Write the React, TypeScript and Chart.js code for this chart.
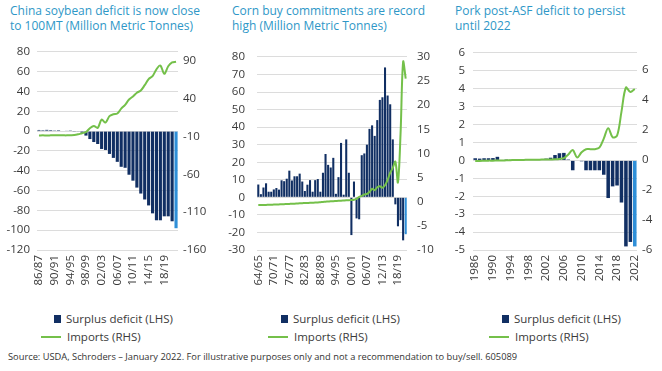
import React, { useEffect, useRef } from 'react';
import { Chart, registerables } from 'chart.js';
Chart.register(...registerables);

const FONT = "'Open Sans', sans-serif";
const NAVY = '#112f63';
const LIGHT = '#2f8fd8';
const GREEN = '#74c04a';
const TITLE_C = '#2e97c7';
const TEXT_C = '#3a3a3a';
const GRID_C = '#dcdcdc';

// ---------- Panel 1: China soybean ----------
const soyCats = ['86/87','87/88','88/89','89/90','90/91','91/92','92/93','93/94','94/95','95/96','96/97','97/98','98/99','99/00','00/01','01/02','02/03','03/04','04/05','05/06','06/07','07/08','08/09','09/10','10/11','11/12','12/13','13/14','14/15','15/16','16/17','17/18','18/19','19/20','20/21','21/22'];
const soyTicks = ['86/87','90/91','94/95','98/99','02/03','06/07','10/11','14/15','18/19'];
const soySurplus = [1.2,1.0,1.3,1.1,0.8,1.0,0.5,0.4,0.2,-0.3,-0.6,-1.5,-4.5,-8,-11,-13,-18,-19,-23,-27,-31,-36,-37,-44,-50,-57,-63,-69,-75,-83,-90,-90,-86,-86,-91,-98];
const soyImports = [-8.5,-8.4,-8.5,-8.4,-8.3,-8.4,-8.3,-8.4,-8.2,-8,-7,-5.5,-4,1,4,1.5,12.5,8.5,17,19.5,20.5,27,32,39,43,48,51,58,66,70,79,84,73,83,88,89];
const soyRightTicks = [-160,-110,-60,-10,40,90];

// ---------- Panel 2: Corn ----------
const cornCats = ['64/65','65/66','66/67','67/68','68/69','69/70','70/71','71/72','72/73','73/74','74/75','75/76','76/77','77/78','78/79','79/80','80/81','81/82','82/83','83/84','84/85','85/86','86/87','87/88','88/89','89/90','90/91','91/92','92/93','93/94','94/95','95/96','96/97','97/98','98/99','99/00','00/01','01/02','02/03','03/04','04/05','05/06','06/07','07/08','08/09','09/10','10/11','11/12','12/13','13/14','14/15','15/16','16/17','17/18','18/19','19/20','20/21','21/22'];
const cornTicks = ['64/65','70/71','76/77','82/83','88/89','94/95','00/01','06/07','12/13','18/19'];
const cornSurplus = [7.3,1.8,5.6,8,3.2,3.2,4.5,5.3,4.4,9.7,9.2,10.6,15.2,9.6,12,12,13.5,9,3.6,7.2,9.8,3.2,9.8,10.4,3.2,14,24.7,18.5,17,22.5,2,11.5,31,1.5,33,14,-21.5,9,-12,-12.5,24,25,30,39,41,35,44,55.5,57,74,58,53,33,-4,-16.5,-13,-24.5,-21];
const cornImports = [-0.7,-0.7,-0.68,-0.66,-0.64,-0.62,-0.6,-0.58,-0.55,-0.52,-0.5,-0.48,-0.45,-0.42,-0.4,-0.37,-0.34,-0.3,-0.28,-0.25,-0.22,-0.2,-0.18,-0.15,-0.1,-0.05,0,0.05,0.1,0.12,0.15,0.18,0.2,0.25,0.3,0.3,0.35,0.4,0.6,1.0,1.2,1.5,1.6,2.0,2.7,2.4,3.0,3.2,2.9,3.4,4.5,6.0,7.0,8.3,4.0,14,29,25.5];
const cornRightTicks = [-10,-5,0,5,10,15,20,25,30];

// ---------- Panel 3: Pork ----------
const porkCats = ['1986','1987','1988','1989','1990','1991','1992','1993','1994','1995','1996','1997','1998','1999','2000','2001','2002','2003','2004','2005','2006','2007','2008','2009','2010','2011','2012','2013','2014','2015','2016','2017','2018','2019','2020','2021','2022'];
const porkTicks = ['1986','1990','1994','1998','2002','2006','2010','2014','2018','2022'];
const porkSurplus = [0.12,0.1,0.12,0.12,0.13,0.2,0.03,0.05,0.04,0.03,0.02,0.05,0.04,0.05,0.06,0.08,0.1,0.15,0.3,0.4,0.42,0.05,-0.55,0,-0.05,-0.55,-0.55,-0.55,-0.55,-0.8,-2.1,-1.45,-1.4,-2.35,-4.8,-4.55,-4.8];
const porkImports = [-0.08,-0.08,-0.07,-0.06,-0.06,-0.05,-0.05,-0.04,-0.03,-0.02,-0.02,-0.01,0,0,0,0.01,0.01,0.02,0.03,0.05,0.1,0.35,0.65,0.15,0.5,0.7,0.7,0.7,0.8,1.4,2.1,1.5,1.6,3.2,4.8,4.5,4.7];
const porkRightTicks = [-6,-4,-2,0,2,4,6];

const tickFont = { family: FONT, size: 11.5 };

type PanelProps = {
  left: number; width: number;
  cats: string[]; ticks: string[]; bars: number[]; line: number[];
  yMin: number; yMax: number; yStep: number;
  y1Min: number; y1Max: number; y1Ticks: number[];
  leftW: number; leftPad: number; rightW: number; rightPad: number;
};

function Panel(p: PanelProps) {
  const ref = useRef<HTMLCanvasElement>(null);
  useEffect(() => {
    const chart = new Chart(ref.current as HTMLCanvasElement, {
      data: {
        labels: p.cats,
        datasets: [
          {
            type: 'line', data: p.line, yAxisID: 'y1', borderColor: GREEN, borderWidth: 2,
            pointRadius: 0, tension: 0.35, order: 0,
          } as any,
          {
            type: 'bar', data: p.bars, yAxisID: 'y',
            backgroundColor: p.bars.map((_, i) => (i === p.bars.length - 1 ? LIGHT : NAVY)),
            barPercentage: 0.8, categoryPercentage: 1, order: 1,
          } as any,
        ],
      },
      options: {
        animation: false, responsive: false, events: [],
        layout: { padding: { top: 10, left: 0, right: 0, bottom: 0 } },
        plugins: { legend: { display: false }, tooltip: { enabled: false } },
        scales: {
          x: {
            grid: { display: false, drawTicks: false }, border: { display: false },
            ticks: {
              autoSkip: false, minRotation: 90, maxRotation: 90, padding: 5,
              font: tickFont, color: TEXT_C,
              callback: (_v: any, i: number) => (p.ticks.includes(p.cats[i]) ? p.cats[i] : ''),
            },
            afterFit: (s: any) => { s.height = 50; },
          },
          y: {
            position: 'left', min: p.yMin, max: p.yMax,
            ticks: { stepSize: p.yStep, padding: p.leftPad, font: tickFont, color: TEXT_C },
            grid: { color: GRID_C, drawTicks: false, lineWidth: 1 }, border: { display: false },
            afterFit: (s: any) => { s.width = p.leftW; },
          },
          y1: {
            position: 'right', min: p.y1Min, max: p.y1Max,
            grid: { display: false, drawTicks: false }, border: { display: false },
            ticks: { padding: p.rightPad, font: tickFont, color: TEXT_C },
            afterBuildTicks: (s: any) => { s.ticks = p.y1Ticks.map((v) => ({ value: v })); },
            afterFit: (s: any) => { s.width = p.rightW; },
          },
        },
      } as any,
    });
    return () => chart.destroy();
  }, []);
  return (
    <canvas ref={ref} width={p.width} height={262}
      style={{ position: 'absolute', left: p.left, top: 38, width: p.width, height: 262 }} />
  );
}

function Title({ left, lines }: { left: number; lines: string[] }) {
  return (
    <div style={{ position: 'absolute', left, top: 3, font: `12px ${FONT}`, lineHeight: '15px', color: TITLE_C, whiteSpace: 'nowrap' }}>
      {lines.map((l, i) => <div key={i}>{l}</div>)}
    </div>
  );
}

function Legend({ sq }: { sq: number }) {
  const txt: React.CSSProperties = { position: 'absolute', font: `11.5px ${FONT}`, color: TEXT_C, whiteSpace: 'nowrap', lineHeight: '14px' };
  return (
    <>
      <div style={{ position: 'absolute', left: sq, top: 315, width: 7, height: 8, background: NAVY }} />
      <div style={{ ...txt, left: sq + 12, top: 312 }}>Surplus deficit (LHS)</div>
      <div style={{ position: 'absolute', left: sq - 13, top: 336, width: 20, height: 2, background: GREEN }} />
      <div style={{ ...txt, left: sq + 13, top: 330 }}>Imports (RHS)</div>
    </>
  );
}

export default function App() {
  return (
    <div style={{ position: 'absolute', left: 0, top: 0, width: 662, height: 371, background: '#fff', overflow: 'hidden' }}>
      <Title left={10} lines={['China soybean deficit is now close', 'to 100MT (Million Metric Tonnes)']} />
      <Title left={232} lines={['Corn buy commitments are record', 'high (Million Metric Tonnes)']} />
      <Title left={455} lines={['Pork post-ASF deficit to persist', 'until 2022']} />
      <Panel left={0} width={215} cats={soyCats} ticks={soyTicks} bars={soySurplus} line={soyImports}
        yMin={-120} yMax={80} yStep={20} y1Min={-160} y1Max={102} y1Ticks={soyRightTicks}
        leftW={37} leftPad={7} rightW={37} rightPad={5} />
      <Panel left={220} width={222} cats={cornCats} ticks={cornTicks} bars={cornSurplus} line={cornImports}
        yMin={-30} yMax={80} yStep={10} y1Min={-10} y1Max={30} y1Ticks={cornRightTicks}
        leftW={37} leftPad={12} rightW={35} rightPad={10} />
      <Panel left={440} width={222} cats={porkCats} ticks={porkTicks} bars={porkSurplus} line={porkImports}
        yMin={-5} yMax={6} yStep={1} y1Min={-6} y1Max={7.1} y1Ticks={porkRightTicks}
        leftW={33} leftPad={8} rightW={25} rightPad={5} />
      <Legend sq={54} />
      <Legend sq={281} />
      <Legend sq={502} />
      <div style={{ position: 'absolute', left: 8, top: 351, font: `9.3px ${FONT}`, color: '#333', whiteSpace: 'nowrap', lineHeight: '12px' }}>
        Source: USDA, Schroders – January 2022. For illustrative purposes only and not a recommendation to buy/sell. 605089
      </div>
    </div>
  );
}
